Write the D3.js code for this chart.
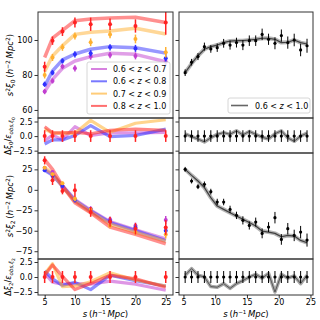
<!DOCTYPE html>
<html><head><meta charset="utf-8">
<script src="https://cdn.jsdelivr.net/npm/d3@7"></script>
<style>
body{margin:0;background:#fff}
svg{display:block;font-family:"DejaVu Sans",sans-serif}
</style></head><body>
<svg id="c" width="320" height="320"></svg>
<script>
// ---------- data ----------
const sBins = [5, 6.3, 7.94, 10, 12.6, 15.8, 20, 25];
const labels = ["0.6 < z < 0.7", "0.6 < z < 0.8", "0.7 < z < 0.9", "0.8 < z < 1.0"];
const colors = ["#c23fd0", "#3030ff", "#ffb030", "#ff2222"];

const xi0Data = [
  [70.5, 76.6, 84.8, 83.8, 90.5, 91.4, 90.9, 87.6],
  [74.7, 81.3, 88.0, 91.8, 92.4, 95.8, 95.2, 89.6],
  [80.0, 90.0, 95.8, 102.3, 98.7, 103.2, 100.6, 93.0],
  [84.7, 99.6, 104.8, 110.0, 109.0, 109.0, 108.0, 110.0]
];
const xi0Err = [
  [1.5, 1.5, 1.5, 1.8, 1.8, 1.8, 2.0, 2.5],
  [1.5, 1.5, 1.5, 1.8, 1.8, 1.8, 2.0, 2.5],
  [2.0, 2.0, 2.0, 2.0, 2.2, 2.2, 2.5, 3.0],
  [2.9, 2.4, 2.5, 2.9, 3.8, 3.3, 3.8, 7.0]
];
const xi0Model = [
  [70.5, 77.5, 83.8, 88.0, 90.5, 92.4, 91.8, 87.6],
  [73.7, 82.3, 88.6, 92.0, 94.7, 96.2, 95.6, 92.5],
  [82.0, 90.9, 96.7, 103.2, 104.4, 105.1, 106.7, 103.4],
  [90.0, 101.0, 105.5, 111.0, 112.0, 112.5, 113.0, 110.0]
];
const res0 = [
  [-0.8, 0.2, -0.65, 1.6, 0.1, 0.55, 0.55, 0.65],
  [-1.35, -0.65, -0.65, 0.1, 1.8, -0.1, 0.1, 1.2],
  [1.2, 0.5, 0.5, 0.5, 2.7, 0.65, 2.2, 2.8],
  [1.6, 0.55, 0.55, 0.65, 0.4, 1.0, 1.2, 1.0]
];
const xi2Data = [
  [27, 21.8, 2.7, -11.6, -23, -36, -44, -37],
  [23.9, 17, 4.7, -12.5, -24, -38, -46, -50],
  [27, 19, 8, -10.8, -24, -44, -51.6, -54.5],
  [36, 11.6, -1.5, -0.6, -27, -39, -47.5, -46]
];
const xi2Err = [
  [2, 2, 2, 3, 3, 3, 4, 5],
  [2, 2, 2, 3, 3, 3, 4, 5],
  [2, 2, 2, 3, 3, 3, 4, 5],
  [5, 5.7, 4, 8, 6, 6, 7, 9]
];
const xi2Model = [
  [25, 19, 5, -12, -25, -39, -49, -60],
  [24, 18, 4.5, -13, -26, -40, -50, -62],
  [27, 20, 4, -14, -27, -42, -52, -63],
  [37, 25, 4.7, -15.7, -28, -45.5, -54.5, -66]
];
const res2 = [
  [0.6, -0.85, -1.2, -1.1, -1.2, -0.7, -1.2, -2.2],
  [1.0, -0.3, -1.4, -0.9, -2.1, 0.3, -0.6, -1.5],
  [0.5, 2.2, -1.6, -1.5, -0.8, 0.7, -0.5, -1.5],
  [0.3, 2.0, 0.1, -2.1, -1.1, 0.3, -0.3, -1.7]
];

const rS = [5.27, 6.28, 7.29, 8.30, 9.31, 10.32, 11.33, 12.34, 13.35, 14.36, 15.37, 16.38, 17.39, 18.40, 19.41, 20.42, 21.43, 22.44, 23.45, 24.46];
const rLabel = "0.6 < z < 1.0";
const rXi0 = [81.3, 87.3, 90.5, 96.2, 94.9, 95.6, 98.1, 97.1, 98.5, 97.1, 99.6, 99.6, 103.2, 100.4, 98.1, 102.5, 98.5, 100, 94.3, 96.7];
const rXi0Err = [1.9, 1.9, 2, 2.3, 2.2, 2.4, 2.5, 2.6, 2.8, 2.9, 3, 3, 3.3, 3.2, 3.4, 3.5, 3.5, 3.6, 3.6, 4];
const rXi0Model = [81.3, 86.5, 91, 94.7, 96.2, 97.1, 98.5, 99.4, 99.6, 99.6, 100, 100.4, 101, 101, 100.4, 98.5, 98.7, 100, 98.5, 97.7];
const rRes0 = [0.4, -0.1, -0.5, -1.0, -0.3, 0.3, 0.6, 0.3, 0.9, 0.2, 0.8, 0.3, -0.2, -0.5, 0.4, 0.9, -0.3, -0.9, 0.0, 0.5];
const rXi2 = [25, 10.8, 3.9, 6.7, -2.2, -14.9, -14.9, -23.9, -31.2, -37.3, -43.5, -39.4, -53.2, -45.5, -34, -60.6, -47.5, -55.7, -51.6, -61.4];
const rXi2Err = [3, 3, 3, 3.5, 3.5, 4, 4, 4.5, 4.5, 5, 5, 5.5, 6, 6, 7, 6.5, 7, 7, 7.5, 8];
const rXi2Model = [25, 17.7, 10.8, 2.7, -9.5, -19.8, -23.9, -27.9, -32, -36, -40, -44.3, -50.4, -51.6, -53.2, -57.3, -55.7, -56.5, -61.8, -64.6];
const rRes2 = [0.3, 1.4, 0.3, 0.0, -1.6, -1.7, -1.1, -1.9, -1.1, -0.6, 0.0, 0.45, -0.2, 0.6, -2.5, 0.45, -0.2, 0.2, -1.1, 0.3];

const xTicks = [5, 10, 15, 20, 25];
const yTicksXi0 = [60, 80, 100];
const yTicksXi2 = [-75, -50, -25, 0, 25];
const yTicksRes = [-2.5, 0, 2.5];

// ---------- layout ----------
const svg = d3.select("#c");
const cols = [{x0: 38, x1: 173, dom: [3.9, 26.2]}, {x0: 179, x1: 313, dom: [4.3, 25.4]}];
const rows = [
  {y0: 12, y1: 118, dom: [55.4, 116], ticks: yTicksXi0, fmt: d3.format("d")},
  {y0: 118, y1: 153, dom: [-2.9, 3.1], ticks: yTicksRes, fmt: d => d3.format(".1f")(d).replace("-", "\u2212")},
  {y0: 153, y1: 259, dom: [-84.5, 45], ticks: yTicksXi2, fmt: d => String(d).replace("-", "\u2212")},
  {y0: 259, y1: 295, dom: [-3, 3], ticks: yTicksRes, fmt: d => d3.format(".1f")(d).replace("-", "\u2212")}
];
const xs = cols.map(c => d3.scaleLinear().domain(c.dom).range([c.x0, c.x1]));
const ys = rows.map(r => d3.scaleLinear().domain(r.dom).range([r.y1, r.y0]));

function clipId(ci, ri) { return "cl" + ci + ri; }
const defs = svg.append("defs");
cols.forEach((c, ci) => rows.forEach((r, ri) => {
  defs.append("clipPath").attr("id", clipId(ci, ri)).append("rect")
    .attr("x", c.x0).attr("y", r.y0).attr("width", c.x1 - c.x0).attr("height", r.y1 - r.y0);
}));

function band(g, x, y, xv, yv, color, w, op) {
  const line = d3.line().x((d, i) => x(xv[i])).y(d => y(d));
  g.append("path").attr("d", line(yv)).attr("fill", "none")
    .attr("stroke", color).attr("stroke-width", w).attr("stroke-opacity", op)
    .attr("stroke-linejoin", "round");
}
function points(g, x, y, xv, yv, ev, color, r, ew) {
  yv.forEach((v, i) => {
    g.append("line").attr("x1", x(xv[i])).attr("x2", x(xv[i]))
      .attr("y1", y(v - ev[i])).attr("y2", y(v + ev[i]))
      .attr("stroke", color).attr("stroke-width", ew);
    g.append("circle").attr("cx", x(xv[i])).attr("cy", y(v)).attr("r", r).attr("fill", color);
  });
}

// ---------- left column ----------
const mainsL = [
  {ri: 0, data: xi0Data, err: xi0Err, model: xi0Model},
  {ri: 2, data: xi2Data, err: xi2Err, model: xi2Model}
];
mainsL.forEach(m => {
  const g = svg.append("g").attr("clip-path", `url(#${clipId(0, m.ri)})`);
  const x = xs[0], y = ys[m.ri];
  m.model.forEach((mv, k) => band(g, x, y, sBins, mv, colors[k], 3.5, 0.5));
  m.data.forEach((dv, k) => points(g, x, y, sBins, dv, m.err[k], colors[k], 2, 1.5));
});
[{ri: 1, res: res0}, {ri: 3, res: res2}].forEach(m => {
  const g = svg.append("g").attr("clip-path", `url(#${clipId(0, m.ri)})`);
  const x = xs[0], y = ys[m.ri];
  m.res.forEach((rv, k) => band(g, x, y, sBins, rv, colors[k], 3.2, 0.55));
  points(g, x, y, sBins, sBins.map(() => 0), sBins.map(() => 1), colors[3], 2, 1.5);
});

// ---------- right column ----------
[{ri: 0, data: rXi0, err: rXi0Err, model: rXi0Model},
 {ri: 2, data: rXi2, err: rXi2Err, model: rXi2Model}].forEach(m => {
  const g = svg.append("g").attr("clip-path", `url(#${clipId(1, m.ri)})`);
  const x = xs[1], y = ys[m.ri];
  band(g, x, y, rS, m.model, "#777", 4, 0.55);
  band(g, x, y, rS, m.model, "#333", 1.2, 0.9);
  points(g, x, y, rS, m.data, m.err, "#000", 1.6, 1);
});
[{ri: 1, res: rRes0}, {ri: 3, res: rRes2}].forEach(m => {
  const g = svg.append("g").attr("clip-path", `url(#${clipId(1, m.ri)})`);
  const x = xs[1], y = ys[m.ri];
  band(g, x, y, rS, m.res, "#777", 3.5, 0.65);
  band(g, x, y, rS, m.res, "#444", 1, 0.8);
  points(g, x, y, rS, rS.map(() => 0), rS.map(() => 1), "#000", 1.6, 1);
});

// ---------- axes & frames ----------
cols.forEach((c, ci) => rows.forEach((r, ri) => {
  const ax = svg.append("g").attr("transform", `translate(${c.x0},0)`)
    .call(d3.axisLeft(ys[ri]).tickValues(r.ticks).tickSize(3.5).tickPadding(2)
      .tickFormat(ci === 0 ? r.fmt : () => ""));
  ax.select(".domain").remove();
  ax.selectAll("text").attr("font-size", 8).attr("fill", "#000").attr("font-family", "DejaVu Sans");
  ax.selectAll("line").attr("stroke", "#000").attr("stroke-width", 0.8);
  svg.append("rect").attr("x", c.x0).attr("y", r.y0).attr("width", c.x1 - c.x0).attr("height", r.y1 - r.y0)
    .attr("fill", "none").attr("stroke", "#333").attr("stroke-width", 1);
}));
cols.forEach((c, ci) => {
  const ax = svg.append("g").attr("transform", `translate(0,${rows[3].y1})`)
    .call(d3.axisBottom(xs[ci]).tickValues(xTicks).tickSize(3.5).tickPadding(0.5));
  ax.select(".domain").remove();
  ax.selectAll("text").attr("font-size", 8).attr("fill", "#000").attr("font-family", "DejaVu Sans");
  ax.selectAll("line").attr("stroke", "#000").attr("stroke-width", 0.8);
  const t = svg.append("text").attr("x", (c.x0 + c.x1) / 2).attr("y", 317)
    .attr("text-anchor", "middle").attr("font-size", 8.5);
  t.append("tspan").attr("font-style", "italic").text("s");
  t.append("tspan").text("\u2009(");
  t.append("tspan").attr("font-style", "italic").text("h");
  t.append("tspan").attr("font-size", 5.5).attr("dy", -3).text("\u22121");
  t.append("tspan").attr("dy", 3).attr("font-style", "italic").text("\u2009Mpc");
  t.append("tspan").text(")");
});

// y labels
function mainLabel(cy, sub) {
  const t = svg.append("text").attr("transform", `translate(13,${cy}) rotate(-90)`)
    .attr("text-anchor", "middle").attr("font-size", 8.5);
  t.append("tspan").attr("font-style", "italic").text("s");
  t.append("tspan").attr("font-size", 6).attr("dy", -3.5).text("2");
  t.append("tspan").attr("dy", 3.5).attr("font-style", "italic").text("\u03be");
  t.append("tspan").attr("font-size", 6).attr("dy", 2).text(sub);
  t.append("tspan").attr("dy", -2).text("\u2009(");
  t.append("tspan").attr("font-style", "italic").text("h");
  t.append("tspan").attr("font-size", 6).attr("dy", -3.5).text("\u22122");
  t.append("tspan").attr("dy", 3.5).attr("font-style", "italic").text("\u2009Mpc");
  t.append("tspan").attr("font-size", 6).attr("dy", -3.5).text("2");
  t.append("tspan").attr("dy", 3.5).text(")");
}
function resLabel(cy, sub) {
  const t = svg.append("text").attr("transform", `translate(11,${cy}) rotate(-90)`)
    .attr("text-anchor", "middle").attr("font-size", 8);
  t.append("tspan").text("\u0394");
  t.append("tspan").attr("font-style", "italic").text("\u03be");
  t.append("tspan").attr("font-size", 5.5).attr("dy", 2).text(sub);
  t.append("tspan").attr("dy", -2).text("/");
  t.append("tspan").attr("font-style", "italic").text("\u03b5");
  t.append("tspan").attr("font-size", 5.5).attr("dy", 2).attr("font-style", "italic").text("obs,\u03be");
  t.append("tspan").attr("font-size", 4.5).attr("dy", 1.5).text(sub);
}
mainLabel(65, "0");
resLabel(136, "0");
mainLabel(206, "2");
resLabel(277, "2");

// ---------- legends ----------
const lg = svg.append("g");
lg.append("rect").attr("x", 87).attr("y", 62).attr("width", 83).attr("height", 52).attr("rx", 2)
  .attr("fill", "#fff").attr("fill-opacity", 0.8).attr("stroke", "#ccc").attr("stroke-width", 0.8);
labels.forEach((lab, k) => {
  const yy = 69 + k * 12.3;
  lg.append("line").attr("x1", 91).attr("x2", 107).attr("y1", yy).attr("y2", yy)
    .attr("stroke", colors[k]).attr("stroke-width", 2).attr("stroke-opacity", 0.65);
  const parts = lab.split("z");
  const t = lg.append("text").attr("x", 113).attr("y", yy + 3).attr("font-size", 8);
  t.append("tspan").text(parts[0]);
  t.append("tspan").attr("font-style", "italic").text("z");
  t.append("tspan").text(parts[1]);
});
const rg = svg.append("g");
rg.append("rect").attr("x", 228).attr("y", 98).attr("width", 82).attr("height", 15).attr("rx", 2)
  .attr("fill", "#fff").attr("fill-opacity", 0.8).attr("stroke", "#ccc").attr("stroke-width", 0.8);
rg.append("line").attr("x1", 231).attr("x2", 248).attr("y1", 105.5).attr("y2", 105.5)
  .attr("stroke", "#666").attr("stroke-width", 1.6);
{
  const parts = rLabel.split("z");
  const t = rg.append("text").attr("x", 255).attr("y", 108.5).attr("font-size", 8);
  t.append("tspan").text(parts[0]);
  t.append("tspan").attr("font-style", "italic").text("z");
  t.append("tspan").text(parts[1]);
}
</script>
</body></html>
